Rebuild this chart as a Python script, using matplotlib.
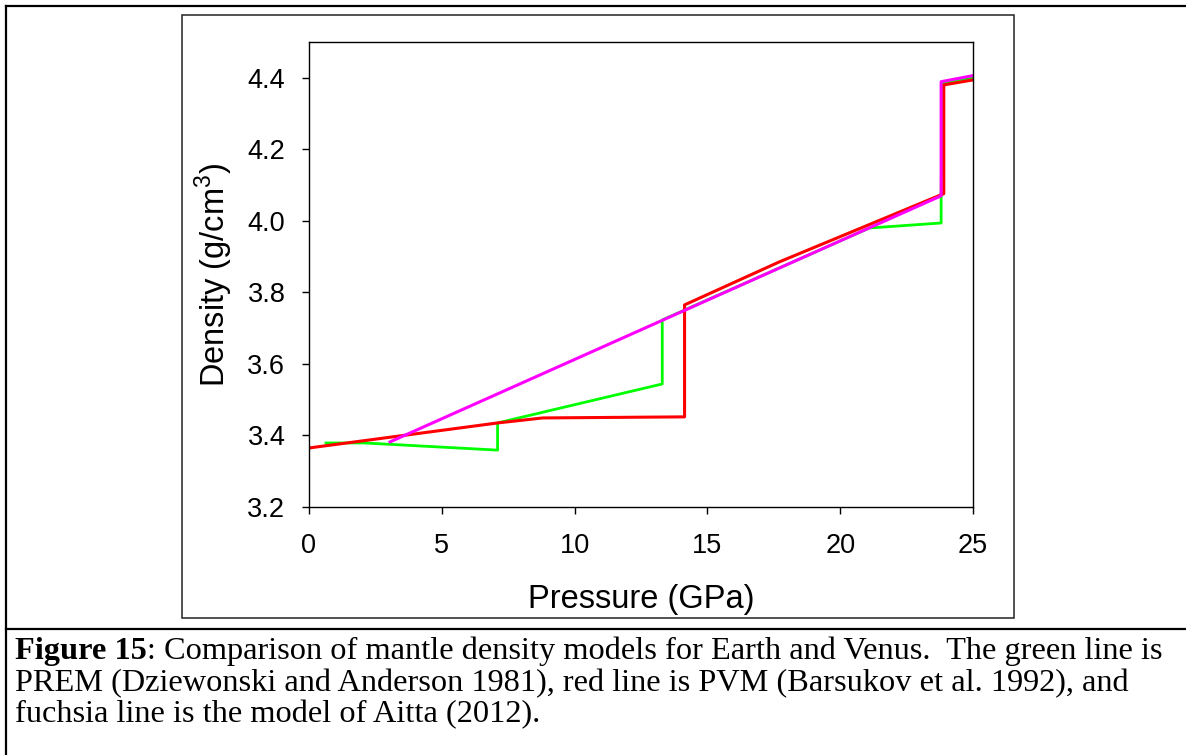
import numpy as np
import matplotlib.pyplot as plt
from matplotlib.patches import Rectangle
from matplotlib.lines import Line2D

plt.rcParams['font.family'] = 'Liberation Sans'
plt.rcParams['mathtext.fontset'] = 'custom'
plt.rcParams['mathtext.rm'] = 'Liberation Sans'

# PREM (green)
prem_p = [0.64, 2.1, 7.1, 7.1, 13.3, 13.3, 21.1, 23.8, 23.8, 23.85, 25.0]
prem_rho = [3.379, 3.379, 3.359, 3.435, 3.544, 3.723, 3.980, 3.994, 4.070, 4.385, 4.400]
# PVM (red)
pvm_p = [0.0, 7.1, 8.8, 14.14, 14.14, 17.7, 23.9, 23.9, 25.0]
pvm_rho = [3.365, 3.435, 3.449, 3.452, 3.765, 3.885, 4.076, 4.380, 4.394]
# Aitta 2012 (fuchsia)
aitta_p = [3.05, 23.8, 23.8, 25.0]
aitta_rho = [3.382, 4.070, 4.389, 4.406]

W, H = 1186, 755
fig = plt.figure(figsize=(W/100, H/100), dpi=100)

def fx(px):
    return px / W

def fy(py):
    return 1 - py / H

# page frame and caption separator
for xs, ys in [((6, W), (6, 6)), ((6, 6), (6, H)), ((6, W), (629, 629))]:
    fig.add_artist(Line2D([fx(x) for x in xs], [fy(y) for y in ys],
                          color='black', lw=1.6, transform=fig.transFigure))
# box round the graph
fig.add_artist(Rectangle((fx(182), fy(618)), fx(1014) - fx(182), fy(15) - fy(618),
                         fill=False, ec='#222222', lw=1.1, transform=fig.transFigure))

ax = fig.add_axes([fx(309), fy(507), fx(973) - fx(309), fy(42) - fy(507)])
ax.plot(prem_p, prem_rho, color='#00ff00', lw=2.0)
ax.plot(pvm_p, pvm_rho, color='#ff0000', lw=2.2)
ax.plot(aitta_p, aitta_rho, color='#ff00ff', lw=2.2)

ax.set_xlim(0, 25)
ax.set_ylim(3.2, 4.5)
ax.set_xticks([0, 5, 10, 15, 20, 25])
ax.set_yticks([3.2, 3.4, 3.6, 3.8, 4.0, 4.2, 4.4])
ax.yaxis.set_major_formatter(plt.FormatStrFormatter('%.1f'))
ax.tick_params(direction='out', length=5, width=1, labelsize=19.5)
ax.tick_params(axis='y', pad=12)
ax.tick_params(axis='x', pad=14)
for s in ax.spines.values():
    s.set_linewidth(1.0)

ax.set_xlabel('Pressure (GPa)', fontsize=23.5)
ax.xaxis.set_label_coords(0.5, -0.165)
ax.set_ylabel('Density (g/cm$^\\mathregular{3}$)', fontsize=23.5)
ax.yaxis.set_label_coords(-0.112, 0.5)

# caption
cap_kw = dict(fontsize=23.3, family='Liberation Serif', va='baseline', ha='left')
t = fig.text(fx(15), fy(659), 'Figure 15', fontweight='bold', **cap_kw)
fig.canvas.draw()
bb = t.get_window_extent(renderer=fig.canvas.get_renderer())
fig.text(bb.x1 / W, fy(659),
         ': Comparison of mantle density models for Earth and Venus.  The green line is', **cap_kw)
fig.text(fx(15), fy(691), 'PREM (Dziewonski and Anderson 1981), red line is PVM (Barsukov et al. 1992), and',
         **cap_kw)
fig.text(fx(15), fy(722), 'fuchsia line is the model of Aitta (2012).', **cap_kw)

fig.savefig('out.png', dpi=100)
